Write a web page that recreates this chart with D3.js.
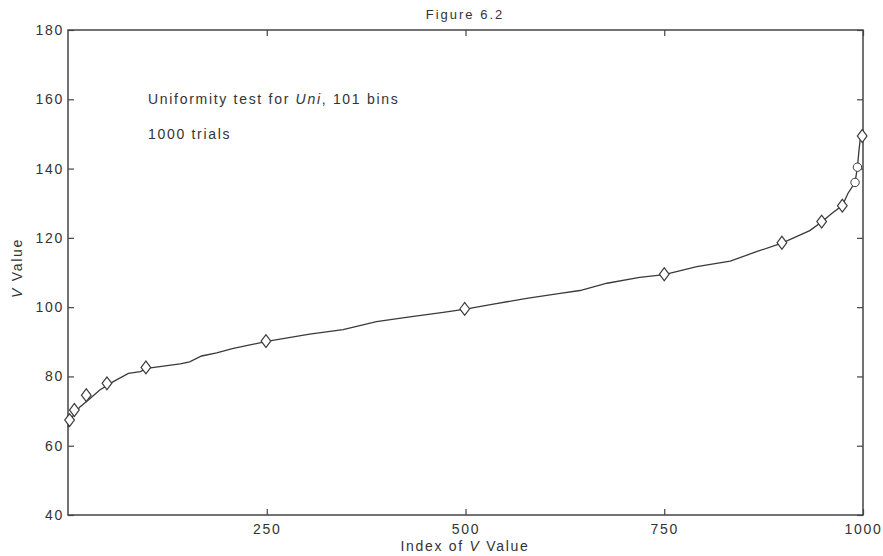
<!DOCTYPE html>
<html>
<head>
<meta charset="utf-8">
<title>Figure 6.2</title>
<script src="https://cdnjs.cloudflare.com/ajax/libs/d3/7.8.5/d3.min.js"></script>
<style>
  body { margin: 0; background: #fff; }
  svg text { font-family: "Liberation Sans", Arial, Helvetica, sans-serif; fill: #333; letter-spacing: 1.7px; }
</style>
</head>
<body>
<div id="chart"></div>
<script>
// sorted V values (index of V value -> V)
var curveIdx = [0, 5, 15, 26, 40, 57, 76, 91, 99, 120, 141, 153, 168, 187, 208, 229, 250,
                304, 346, 388, 430, 472, 500, 535, 577, 619, 644, 678, 719, 750, 791, 833,
                866, 898, 933, 948, 961, 974, 981, 990, 993, 995, 997, 1000];
var curveVal = [65.3, 68.2, 71.2, 73.3, 76.1, 78.5, 80.9, 81.4, 82.3, 83.0, 83.6, 84.2, 85.9, 86.8, 88.1, 89.1, 90.1,
                92.2, 93.5, 95.8, 97.2, 98.5, 99.4, 100.9, 102.5, 104.0, 104.8, 106.9, 108.6, 109.4, 111.7, 113.3,
                116.0, 118.5, 122.1, 124.6, 127.1, 129.3, 132.8, 136.0, 140.4, 145.4, 149.4, 150.0];

// percentile markers
var diamondIdx = [2, 8, 23, 49, 98, 249, 499, 750, 898, 948, 974, 999];
var diamondVal = [67.4, 70.3, 74.6, 78.0, 82.6, 90.2, 99.5, 109.5, 118.6, 124.7, 129.3, 149.4];
var circleIdx = [990, 993];
var circleVal = [136.0, 140.4];

var xTicks = [250, 500, 750, 1000];
var yTicks = [40, 60, 80, 100, 120, 140, 160, 180];

var W = 883, H = 556;
var mLeft = 68, mRight = 863, mTop = 30, mBottom = 515;

var svg = d3.select("#chart").append("svg")
  .attr("width", W).attr("height", H);

var x = d3.scaleLinear().domain([0, 1000]).range([mLeft, mRight]);
var y = d3.scaleLinear().domain([40, 180]).range([mBottom, mTop]);

var axisColor = "#444";
var fmt = d3.format("d");

// bottom / top
svg.append("g").attr("transform", "translate(0," + mBottom + ")")
  .call(d3.axisBottom(x).tickValues(xTicks).tickSize(-6).tickPadding(9).tickFormat(fmt))
  .call(function(g){ g.select(".domain").remove(); });
svg.append("g").attr("transform", "translate(0," + mTop + ")")
  .call(d3.axisTop(x).tickValues(xTicks).tickSize(-6).tickFormat(""))
  .call(function(g){ g.select(".domain").remove(); });
// left / right
svg.append("g").attr("transform", "translate(" + mLeft + ",0)")
  .call(d3.axisLeft(y).tickValues(yTicks).tickSize(-6).tickPadding(4).tickFormat(fmt))
  .call(function(g){ g.select(".domain").remove(); });
svg.append("g").attr("transform", "translate(" + mRight + ",0)")
  .call(d3.axisRight(y).tickValues(yTicks).tickSize(-6).tickFormat(""))
  .call(function(g){ g.select(".domain").remove(); });

svg.selectAll(".tick line").attr("stroke", axisColor).attr("stroke-width", 1.2);
svg.selectAll(".tick text").attr("font-size", 14).attr("fill", "#333")
  .attr("font-family", "'Liberation Sans', Arial, sans-serif");

// frame
svg.append("rect")
  .attr("x", mLeft).attr("y", mTop)
  .attr("width", mRight - mLeft).attr("height", mBottom - mTop)
  .attr("fill", "none").attr("stroke", axisColor).attr("stroke-width", 1.5);

// curve
var pts = curveIdx.map(function(d, i){ return [d, curveVal[i]]; });
var line = d3.line().x(function(d){ return x(d[0]); }).y(function(d){ return y(d[1]); });
svg.append("path").datum(pts)
  .attr("d", line)
  .attr("fill", "none").attr("stroke", "#3a3a3a").attr("stroke-width", 1.3);

// diamonds
var dsym = d3.symbol().type(d3.symbolDiamond).size(48);
svg.selectAll(".dia").data(diamondIdx).enter().append("path")
  .attr("class", "dia")
  .attr("transform", function(d, i){ return "translate(" + x(d) + "," + y(diamondVal[i]) + ") scale(1.3,1)"; })
  .attr("d", dsym)
  .attr("fill", "#fff").attr("stroke", "#3a3a3a").attr("stroke-width", 1);

// circles
svg.selectAll(".circ").data(circleIdx).enter().append("circle")
  .attr("class", "circ")
  .attr("cx", function(d){ return x(d); })
  .attr("cy", function(d, i){ return y(circleVal[i]); })
  .attr("r", 4.2)
  .attr("fill", "#fff").attr("stroke", "#3a3a3a").attr("stroke-width", 1);

// texts
svg.append("text").attr("x", 465).attr("y", 19)
  .attr("text-anchor", "middle").attr("font-size", 13).style("letter-spacing", "2px")
  .text("Figure 6.2");

var t1 = svg.append("text").attr("x", 148).attr("y", 104).attr("font-size", 14);
t1.append("tspan").text("Uniformity test for ");
t1.append("tspan").attr("font-style", "italic").text("Uni");
t1.append("tspan").text(", 101 bins");

svg.append("text").attr("x", 148).attr("y", 139).attr("font-size", 14).text("1000 trials");

var xl = svg.append("text").attr("x", 465).attr("y", 551)
  .attr("text-anchor", "middle").attr("font-size", 14);
xl.append("tspan").text("Index of ");
xl.append("tspan").attr("font-style", "italic").text("V");
xl.append("tspan").text(" Value");

var yl = svg.append("text")
  .attr("transform", "translate(22,268) rotate(-90)")
  .attr("text-anchor", "middle").attr("font-size", 14);
yl.append("tspan").attr("font-style", "italic").text("V");
yl.append("tspan").text(" Value");
</script>
</body>
</html>
